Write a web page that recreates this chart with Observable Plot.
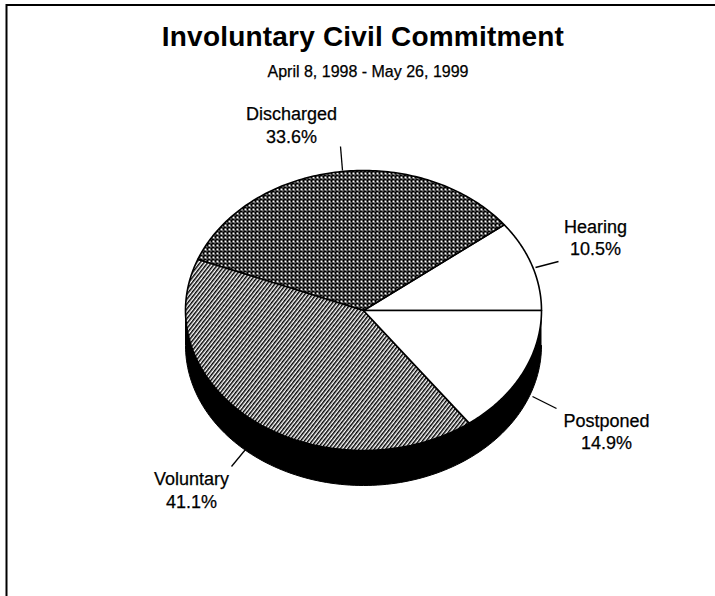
<!DOCTYPE html>
<html>
<head>
<meta charset="utf-8">
<script src="https://cdn.jsdelivr.net/npm/d3@7"></script>
<script src="https://cdn.jsdelivr.net/npm/@observablehq/plot@0.6"></script>
<style>
  html, body { margin: 0; padding: 0; background: #fff; overflow: hidden; }
  #page { position: relative; width: 715px; height: 596px; font-family: "Liberation Sans", Arial, sans-serif; color: #000; }
  #page svg { position: absolute; left: 0; top: 0; background: transparent; }
  #title { position: absolute; left: 0; width: 726px; top: 21px; text-align: center; font-weight: 700; font-size: 28px; letter-spacing: 0.2px; line-height: 32px; }
  #subtitle { position: absolute; left: 0; width: 736px; top: 63px; text-align: center; font-size: 16px; line-height: 18px; -webkit-text-stroke: 0.25px #000; }
</style>
</head>
<body>
<div id="page">
  <div id="title"></div>
  <div id="subtitle"></div>
</div>
<script>
const titleText = "Involuntary Civil Commitment";
const subtitleText = "April 8, 1998 - May 26, 1999";

// Data: slices counter-clockwise from the 3 o'clock position
const categories = ["Hearing", "Discharged", "Voluntary", "Postponed"];
const shares = [10.5, 33.6, 41.1, 14.9];

// Styling and layout (page pixels)
const fills = ["white", "url(#dots)", "url(#hatch)", "white"];
const pie = {cx: 363, cy: 310, rx: 178, ry: 140, depth: 35};
const labelX = [595, 291, 191, 606];
const nameY = [227, 114, 479, 421];
const pctY = [249, 137, 502, 443];
const leaderFromX = [535, 342, 245, 532];
const leaderFromY = [267, 170, 449, 396];
const leaderToX = [558, 340, 231, 556];
const leaderToY = [261, 146, 466, 408];

document.getElementById("title").textContent = titleText;
document.getElementById("subtitle").textContent = subtitleText;

const total = d3.sum(shares);
const onEllipse = (deg, dy = 0) => ({
  x: pie.cx + pie.rx * Math.cos(deg * Math.PI / 180),
  y: pie.cy - pie.ry * Math.sin(deg * Math.PI / 180) + dy
});
const arcPoints = (a0, a1, dy = 0) =>
  d3.range(0, 121).map(i => onEllipse(a0 + (a1 - a0) * i / 120, dy));

// Slice outlines
let cum = 0;
const slices = shares.map((s, i) => {
  const a0 = cum / total * 360;
  cum += s;
  const a1 = cum / total * 360;
  const center = {x: pie.cx, y: pie.cy};
  return {fill: fills[i], points: [center, ...arcPoints(a0, a1), center]};
});

// Black side wall: lower half of the shifted ellipse, closed along the top face
const wall = [
  ...arcPoints(0, -180, pie.depth),
  ...arcPoints(180, 360)
];

const labels = categories.map((name, i) => ({
  name, pct: shares[i].toFixed(1) + "%", x: labelX[i], yName: nameY[i], yPct: pctY[i],
  x1: leaderFromX[i], y1: leaderFromY[i], x2: leaderToX[i], y2: leaderToY[i]
}));

const textStyle = {fontSize: 18, fill: "black", stroke: "black", strokeWidth: 0.25, textAnchor: "middle", lineAnchor: "middle"};

const plot = Plot.plot({
  width: 715,
  height: 596,
  margin: 0,
  x: {domain: [0, 715], range: [0, 715], axis: null},
  y: {domain: [0, 596], range: [0, 596], axis: null},
  style: {background: "transparent", fontFamily: '"Liberation Sans", Arial, sans-serif', color: "#000"},
  marks: [
    // page frame: left and top edges only
    Plot.ruleX([6], {y1: 4, y2: 596, stroke: "black", strokeWidth: 2}),
    Plot.ruleY([4.5], {x1: 6, x2: 715, stroke: "black", strokeWidth: 2}),
    Plot.line(wall, {x: "x", y: "y", fill: "black", stroke: "black", strokeWidth: 1}),
    ...slices.map(s => Plot.line(s.points, {
      x: "x", y: "y", fill: s.fill, stroke: "black", strokeWidth: 1.6, strokeLinejoin: "round"
    })),
    Plot.link(labels, {x1: "x1", y1: "y1", x2: "x2", y2: "y2", stroke: "black", strokeWidth: 1.3}),
    Plot.text(labels, {x: "x", y: "yName", text: "name", ...textStyle}),
    Plot.text(labels, {x: "x", y: "yPct", text: "pct", ...textStyle})
  ]
});

// Fill patterns for the two shaded slices
const ns = "http://www.w3.org/2000/svg";
const defs = document.createElementNS(ns, "defs");
defs.innerHTML = `
  <pattern id="dots" patternUnits="userSpaceOnUse" width="4" height="4">
    <rect width="4" height="4" fill="#000"/>
    <rect x="0" y="0" width="2" height="2" fill="#fff" shape-rendering="crispEdges"/>
    <rect x="2" y="2" width="1" height="1" fill="#fff" shape-rendering="crispEdges"/>
  </pattern>
  <pattern id="hatch" patternUnits="userSpaceOnUse" width="3" height="3" patternTransform="rotate(-52)">
    <rect width="3" height="3" fill="#fff"/>
    <rect width="3" height="1.5" fill="#000"/>
  </pattern>`;
plot.insertBefore(defs, plot.firstChild);

document.getElementById("page").prepend(plot);
</script>
</body>
</html>
